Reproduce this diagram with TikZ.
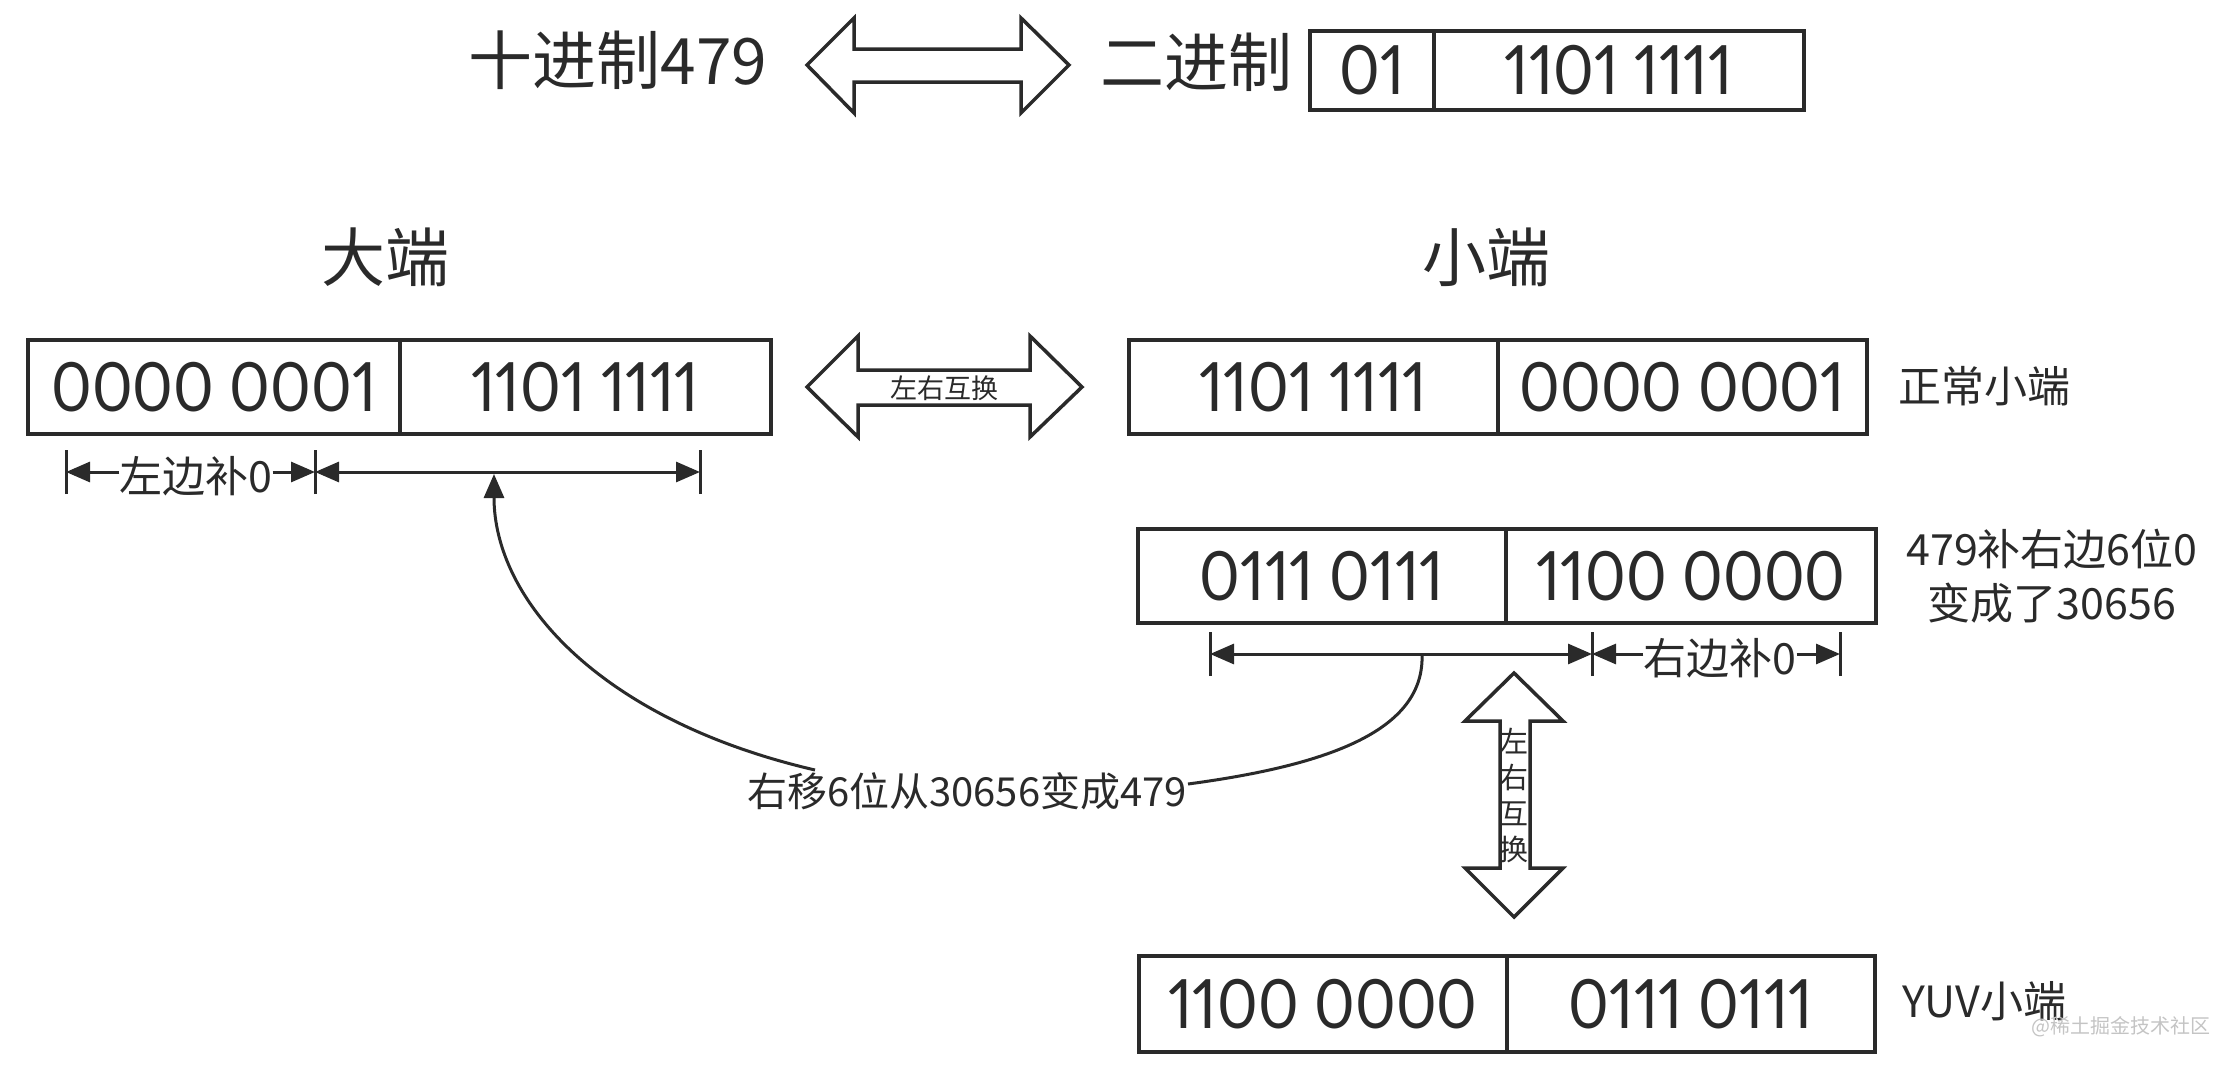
\documentclass[tikz,border=0pt]{standalone}
\usepackage{fontspec}
\newfontfamily\cjk{Noto Sans CJK SC}
\newfontfamily\digitfont[Numbers={Proportional,Lining},FakeStretch=0.91]{Lato}
\usetikzlibrary{arrows.meta}
\definecolor{ink}{HTML}{2A2A2A}
\definecolor{wm}{HTML}{C4C4C4}
\tikzset{
  titletext/.style={font=\cjk\fontsize{64}{70}\selectfont, text=ink, inner sep=0pt},
  cell/.style={draw=ink, line width=4pt, minimum height=94pt, inner sep=0pt,
               font=\digitfont\fontsize{68}{80}\selectfont, text=ink},
  note/.style={font=\cjk\fontsize{43}{54}\selectfont, text=ink, inner sep=0pt, align=center},
  small/.style={font=\cjk\fontsize{27}{36}\selectfont, text=ink, inner sep=0pt, align=center},
  dim/.style={draw=ink, line width=3pt},
  tip/.tip={Triangle[length=24pt,width=20pt]},
  fat/.style={draw=ink, line width=3.5pt, line join=miter, fill=white},
}
\begin{document}
\begin{tikzpicture}[x=1pt,y=-1pt]
\useasboundingbox (0,0) rectangle (2230,1068);

% ---- top row
\node[titletext] (dec) at (618,60) {十进制479};
\draw[fat] (807,65) -- (854,18) -- (854,49) -- (1021,49) -- (1021,18) -- (1069,65)
  -- (1021,113) -- (1021,82) -- (854,82) -- (854,113) -- cycle;
\node[titletext] (bin) at (1196,62) {二进制};
\node[cell, minimum width=124pt, minimum height=79pt] (t01) at (1372,70.5) {01};
\node[cell, minimum width=370pt, minimum height=79pt] (tlo) at (1619,70.5) {1101 1111};

% ---- titles
\node[titletext] (big) at (385,257) {大端};
\node[titletext] (lit) at (1486,257) {小端};

% ---- big endian
\node[cell, minimum width=372pt] (b1) at (214,387) {0000 0001};
\node[cell, minimum width=371pt] (b2) at (585.5,387) {1101 1111};

% dimension under big endian
\coordinate (t1) at (66,472);
\coordinate (t2) at (315,472);
\coordinate (t3) at (700,472);
\foreach \c in {t1,t2,t3} \draw[dim] ([yshift=-22pt]\c) -- ([yshift=22pt]\c);
\node[note] (lz) at (196,476) {左边补0};
\draw[dim,-tip] (lz.west |- t1) -- (t1);
\draw[dim,-tip] (lz.east |- t2) -- (t2);
\draw[dim,tip-tip] (t2) -- (t3);

% middle swap arrow
\draw[fat] (807,387) -- (858,336) -- (858,370) -- (1030,370) -- (1030,336) -- (1082,387)
  -- (1030,437) -- (1030,405) -- (858,405) -- (858,437) -- cycle;
\node[small] (sw1) at (944,388) {左右互换};

% ---- normal little endian
\node[cell, minimum width=369pt] (l1) at (1313.5,387) {1101 1111};
\node[cell, minimum width=369pt] (l2) at (1682.5,387) {0000 0001};
\node[note] (ln) at (1984,386) {正常小端};

% ---- shifted little endian
\node[cell, minimum width=368pt] (s1) at (1322,576) {0111 0111};
\node[cell, minimum width=370pt] (s2) at (1691,576) {1100 0000};
\node[note] (sn) at (2052,576) {479补右边6位0\\变成了30656};

\coordinate (u1) at (1210,654);
\coordinate (u2) at (1592,654);
\coordinate (u3) at (1840,654);
\foreach \c in {u1,u2,u3} \draw[dim] ([yshift=-22pt]\c) -- ([yshift=22pt]\c);
\draw[dim,tip-tip] (u1) -- (u2);
\node[note] (rz) at (1720,658) {右边补0};
\draw[dim,-tip] (rz.west |- u2) -- (u2);
\draw[dim,-tip] (rz.east |- u3) -- (u3);

% ---- curved connector with label
\node[note, font=\cjk\fontsize{40}{48}\selectfont] (shift) at (967,791) {右移6位从30656变成479};
\coordinate (c1) at (815,770);
\coordinate (c2) at (1188,784);
\coordinate (up) at (494,474);
\coordinate (mid) at (1422,654);
\draw[dim,-tip] (c1) .. controls (600,720) and (494,600) .. (up);
\draw[dim] (c2) .. controls (1330,765) and (1425,730) .. (mid);

% vertical swap arrow
\draw[fat] (1514,673) -- (1563,721) -- (1530,721) -- (1530,868) -- (1563,868) -- (1514,917)
  -- (1465,868) -- (1500,868) -- (1500,721) -- (1465,721) -- cycle;
\node[small, font=\cjk\fontsize{29}{36}\selectfont] (sw2) at (1514,795) {左\\右\\互\\换};

% ---- YUV little endian
\node[cell, minimum width=368pt, minimum height=96pt] (y1) at (1323,1004) {1100 0000};
\node[cell, minimum width=368pt, minimum height=96pt] (y2) at (1691,1004) {0111 0111};
\node[note] (yn) at (1984,1001) {YUV小端};

% watermark
\node[inner sep=0pt, font=\cjk\fontsize{20}{24}\selectfont, text=wm] (wmk) at (2121,1027) {@稀土掘金技术社区};
\end{tikzpicture}
\end{document}
